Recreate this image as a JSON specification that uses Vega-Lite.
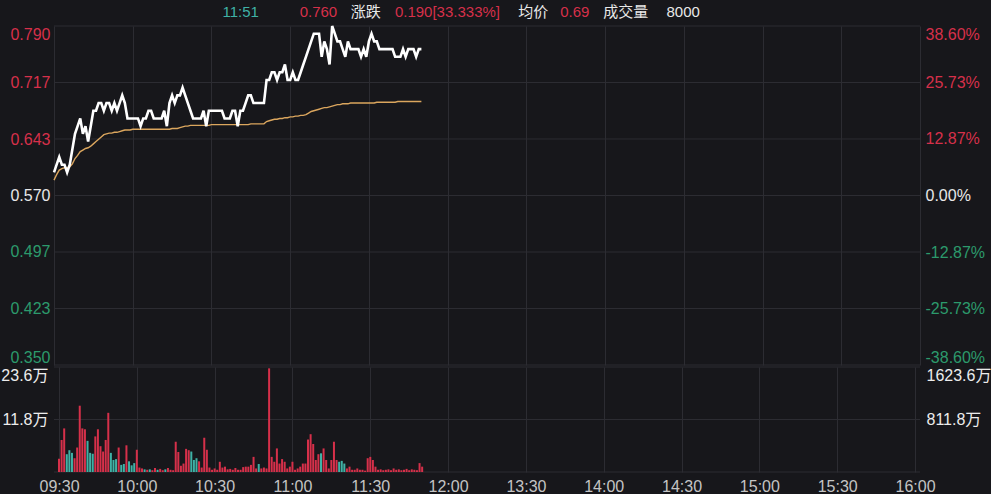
{
  "$schema": "https://vega.github.io/schema/vega-lite/v6.json",
  "background": "#17171b",
  "padding": 0,
  "spacing": 2,
  "bounds": "flush",
  "config": {
    "view": {"stroke": null},
    "font": "Liberation Sans, Noto Sans CJK SC",
    "axis": {"domain": false, "ticks": false, "labelFontSize": 16, "labelFont": "Liberation Sans, Noto Sans CJK SC", "gridColor": "#2c2c32", "gridWidth": 1, "title": null}
  },
  "datasets": {
    "header": [
      {"pos": 64.2, "label": "11:51", "tone": "time"},
      {"pos": 93.6, "label": "0.760", "tone": "up"},
      {"pos": 113.1, "label": "涨跌", "tone": "plain"},
      {"pos": 129.9, "label": "0.190[33.333%]", "tone": "up"},
      {"pos": 176.9, "label": "均价", "tone": "plain"},
      {"pos": 192.9, "label": "0.69", "tone": "up"},
      {"pos": 209.3, "label": "成交量", "tone": "plain"},
      {"pos": 233.4, "label": "8000", "tone": "plain"}
    ],
    "pct": [{"pct": -38.5965}, {"pct": -25.731}, {"pct": -12.866}, {"pct": 0}, {"pct": 12.866}, {"pct": 25.731}, {"pct": 38.5965}],
    "turnover": [{"amt": 0}, {"amt": 811.8}, {"amt": 1623.6}],
    "minute": [
      {"t":0,"price":0.60,"avg":0.590,"vol":3.0,"dir":"up"},
      {"t":1,"price":0.61,"avg":0.597,"vol":7.2,"dir":"up"},
      {"t":2,"price":0.62,"avg":0.603,"vol":9.8,"dir":"flat"},
      {"t":3,"price":0.61,"avg":0.605,"vol":4.0,"dir":"down"},
      {"t":4,"price":0.61,"avg":0.606,"vol":4.9,"dir":"down"},
      {"t":5,"price":0.60,"avg":0.606,"vol":4.3,"dir":"down"},
      {"t":6,"price":0.61,"avg":0.607,"vol":3.1,"dir":"up"},
      {"t":7,"price":0.63,"avg":0.611,"vol":5.5,"dir":"up"},
      {"t":8,"price":0.65,"avg":0.618,"vol":14.9,"dir":"up"},
      {"t":9,"price":0.66,"avg":0.622,"vol":9.8,"dir":"up"},
      {"t":10,"price":0.67,"avg":0.627,"vol":9.6,"dir":"up"},
      {"t":11,"price":0.65,"avg":0.629,"vol":7.0,"dir":"down"},
      {"t":12,"price":0.66,"avg":0.631,"vol":4.3,"dir":"down"},
      {"t":13,"price":0.64,"avg":0.632,"vol":4.1,"dir":"down"},
      {"t":14,"price":0.66,"avg":0.634,"vol":8.0,"dir":"up"},
      {"t":15,"price":0.68,"avg":0.637,"vol":9.6,"dir":"flat"},
      {"t":16,"price":0.68,"avg":0.640,"vol":5.8,"dir":"up"},
      {"t":17,"price":0.69,"avg":0.643,"vol":4.6,"dir":"flat"},
      {"t":18,"price":0.69,"avg":0.646,"vol":7.2,"dir":"up"},
      {"t":19,"price":0.68,"avg":0.649,"vol":13.3,"dir":"flat"},
      {"t":20,"price":0.69,"avg":0.650,"vol":4.3,"dir":"down"},
      {"t":21,"price":0.69,"avg":0.651,"vol":2.7,"dir":"down"},
      {"t":22,"price":0.68,"avg":0.651,"vol":2.9,"dir":"down"},
      {"t":23,"price":0.69,"avg":0.652,"vol":5.5,"dir":"flat"},
      {"t":24,"price":0.68,"avg":0.652,"vol":1.6,"dir":"down"},
      {"t":25,"price":0.69,"avg":0.653,"vol":1.8,"dir":"down"},
      {"t":26,"price":0.70,"avg":0.654,"vol":6.0,"dir":"up"},
      {"t":27,"price":0.69,"avg":0.655,"vol":2.4,"dir":"down"},
      {"t":28,"price":0.67,"avg":0.655,"vol":1.5,"dir":"down"},
      {"t":29,"price":0.67,"avg":0.655,"vol":2.0,"dir":"down"},
      {"t":30,"price":0.67,"avg":0.656,"vol":5.0,"dir":"flat"},
      {"t":31,"price":0.67,"avg":0.656,"vol":1.0,"dir":"flat"},
      {"t":32,"price":0.67,"avg":0.656,"vol":0.8,"dir":"flat"},
      {"t":33,"price":0.66,"avg":0.656,"vol":0.6,"dir":"down"},
      {"t":34,"price":0.67,"avg":0.656,"vol":0.5,"dir":"flat"},
      {"t":35,"price":0.67,"avg":0.656,"vol":0.6,"dir":"down"},
      {"t":36,"price":0.68,"avg":0.656,"vol":0.4,"dir":"flat"},
      {"t":37,"price":0.68,"avg":0.656,"vol":0.9,"dir":"flat"},
      {"t":38,"price":0.67,"avg":0.656,"vol":0.5,"dir":"down"},
      {"t":39,"price":0.67,"avg":0.656,"vol":0.7,"dir":"flat"},
      {"t":40,"price":0.67,"avg":0.656,"vol":0.4,"dir":"flat"},
      {"t":41,"price":0.67,"avg":0.656,"vol":0.6,"dir":"down"},
      {"t":42,"price":0.68,"avg":0.656,"vol":0.9,"dir":"flat"},
      {"t":43,"price":0.66,"avg":0.656,"vol":0.5,"dir":"up"},
      {"t":44,"price":0.69,"avg":0.656,"vol":0.4,"dir":"flat"},
      {"t":45,"price":0.70,"avg":0.657,"vol":6.8,"dir":"up"},
      {"t":46,"price":0.69,"avg":0.657,"vol":4.5,"dir":"flat"},
      {"t":47,"price":0.70,"avg":0.657,"vol":1.4,"dir":"up"},
      {"t":48,"price":0.70,"avg":0.658,"vol":1.9,"dir":"up"},
      {"t":49,"price":0.71,"avg":0.659,"vol":5.2,"dir":"up"},
      {"t":50,"price":0.70,"avg":0.660,"vol":4.9,"dir":"up"},
      {"t":51,"price":0.69,"avg":0.660,"vol":4.6,"dir":"down"},
      {"t":52,"price":0.68,"avg":0.661,"vol":2.7,"dir":"down"},
      {"t":53,"price":0.67,"avg":0.661,"vol":3.1,"dir":"down"},
      {"t":54,"price":0.67,"avg":0.661,"vol":2.4,"dir":"flat"},
      {"t":55,"price":0.67,"avg":0.661,"vol":1.0,"dir":"flat"},
      {"t":56,"price":0.67,"avg":0.661,"vol":7.7,"dir":"flat"},
      {"t":57,"price":0.68,"avg":0.661,"vol":5.0,"dir":"flat"},
      {"t":58,"price":0.66,"avg":0.661,"vol":1.0,"dir":"up"},
      {"t":59,"price":0.68,"avg":0.661,"vol":0.5,"dir":"up"},
      {"t":60,"price":0.68,"avg":0.662,"vol":0.8,"dir":"flat"},
      {"t":61,"price":0.68,"avg":0.662,"vol":0.5,"dir":"flat"},
      {"t":62,"price":0.68,"avg":0.662,"vol":2.3,"dir":"flat"},
      {"t":63,"price":0.68,"avg":0.662,"vol":1.0,"dir":"flat"},
      {"t":64,"price":0.68,"avg":0.662,"vol":1.2,"dir":"flat"},
      {"t":65,"price":0.67,"avg":0.662,"vol":0.6,"dir":"flat"},
      {"t":66,"price":0.67,"avg":0.662,"vol":0.7,"dir":"flat"},
      {"t":67,"price":0.67,"avg":0.662,"vol":0.5,"dir":"flat"},
      {"t":68,"price":0.68,"avg":0.662,"vol":0.9,"dir":"flat"},
      {"t":69,"price":0.68,"avg":0.662,"vol":0.5,"dir":"flat"},
      {"t":70,"price":0.66,"avg":0.662,"vol":0.5,"dir":"up"},
      {"t":71,"price":0.68,"avg":0.662,"vol":1.1,"dir":"up"},
      {"t":72,"price":0.68,"avg":0.662,"vol":1.2,"dir":"up"},
      {"t":73,"price":0.69,"avg":0.662,"vol":1.2,"dir":"up"},
      {"t":74,"price":0.70,"avg":0.662,"vol":1.6,"dir":"up"},
      {"t":75,"price":0.70,"avg":0.663,"vol":3.4,"dir":"up"},
      {"t":76,"price":0.69,"avg":0.663,"vol":0.8,"dir":"flat"},
      {"t":77,"price":0.69,"avg":0.663,"vol":1.8,"dir":"down"},
      {"t":78,"price":0.69,"avg":0.663,"vol":0.8,"dir":"flat"},
      {"t":79,"price":0.69,"avg":0.663,"vol":1.0,"dir":"flat"},
      {"t":80,"price":0.69,"avg":0.663,"vol":0.8,"dir":"flat"},
      {"t":81,"price":0.72,"avg":0.666,"vol":23.3,"dir":"up"},
      {"t":82,"price":0.72,"avg":0.667,"vol":3.4,"dir":"up"},
      {"t":83,"price":0.73,"avg":0.668,"vol":2.3,"dir":"up"},
      {"t":84,"price":0.73,"avg":0.669,"vol":5.3,"dir":"flat"},
      {"t":85,"price":0.72,"avg":0.669,"vol":1.9,"dir":"up"},
      {"t":86,"price":0.73,"avg":0.670,"vol":2.9,"dir":"up"},
      {"t":87,"price":0.73,"avg":0.670,"vol":2.3,"dir":"up"},
      {"t":88,"price":0.74,"avg":0.671,"vol":0.8,"dir":"flat"},
      {"t":89,"price":0.72,"avg":0.671,"vol":1.2,"dir":"flat"},
      {"t":90,"price":0.72,"avg":0.672,"vol":2.3,"dir":"flat"},
      {"t":91,"price":0.73,"avg":0.672,"vol":0.5,"dir":"flat"},
      {"t":92,"price":0.72,"avg":0.673,"vol":0.8,"dir":"flat"},
      {"t":93,"price":0.72,"avg":0.673,"vol":1.2,"dir":"flat"},
      {"t":94,"price":0.73,"avg":0.674,"vol":1.9,"dir":"up"},
      {"t":95,"price":0.74,"avg":0.674,"vol":1.9,"dir":"up"},
      {"t":96,"price":0.75,"avg":0.675,"vol":7.3,"dir":"up"},
      {"t":97,"price":0.76,"avg":0.677,"vol":8.5,"dir":"up"},
      {"t":98,"price":0.77,"avg":0.679,"vol":6.3,"dir":"up"},
      {"t":99,"price":0.78,"avg":0.680,"vol":2.7,"dir":"flat"},
      {"t":100,"price":0.78,"avg":0.681,"vol":4.0,"dir":"up"},
      {"t":101,"price":0.78,"avg":0.682,"vol":4.2,"dir":"down"},
      {"t":102,"price":0.75,"avg":0.683,"vol":5.3,"dir":"up"},
      {"t":103,"price":0.77,"avg":0.684,"vol":2.7,"dir":"up"},
      {"t":104,"price":0.76,"avg":0.684,"vol":0.8,"dir":"flat"},
      {"t":105,"price":0.74,"avg":0.685,"vol":2.7,"dir":"up"},
      {"t":106,"price":0.79,"avg":0.686,"vol":6.8,"dir":"up"},
      {"t":107,"price":0.78,"avg":0.687,"vol":2.7,"dir":"up"},
      {"t":108,"price":0.77,"avg":0.688,"vol":2.3,"dir":"down"},
      {"t":109,"price":0.77,"avg":0.688,"vol":2.5,"dir":"down"},
      {"t":110,"price":0.76,"avg":0.689,"vol":1.9,"dir":"down"},
      {"t":111,"price":0.75,"avg":0.689,"vol":0.8,"dir":"flat"},
      {"t":112,"price":0.77,"avg":0.689,"vol":1.2,"dir":"up"},
      {"t":113,"price":0.76,"avg":0.690,"vol":0.5,"dir":"flat"},
      {"t":114,"price":0.76,"avg":0.690,"vol":0.5,"dir":"flat"},
      {"t":115,"price":0.76,"avg":0.690,"vol":0.8,"dir":"flat"},
      {"t":116,"price":0.76,"avg":0.690,"vol":0.5,"dir":"flat"},
      {"t":117,"price":0.75,"avg":0.690,"vol":0.5,"dir":"flat"},
      {"t":118,"price":0.76,"avg":0.690,"vol":0.3,"dir":"flat"},
      {"t":119,"price":0.75,"avg":0.690,"vol":3.1,"dir":"flat"},
      {"t":120,"price":0.77,"avg":0.690,"vol":3.4,"dir":"up"},
      {"t":121,"price":0.78,"avg":0.690,"vol":2.7,"dir":"up"},
      {"t":122,"price":0.77,"avg":0.690,"vol":1.2,"dir":"flat"},
      {"t":123,"price":0.77,"avg":0.691,"vol":0.5,"dir":"flat"},
      {"t":124,"price":0.76,"avg":0.691,"vol":0.6,"dir":"flat"},
      {"t":125,"price":0.76,"avg":0.691,"vol":0.4,"dir":"flat"},
      {"t":126,"price":0.76,"avg":0.691,"vol":0.5,"dir":"flat"},
      {"t":127,"price":0.76,"avg":0.691,"vol":0.6,"dir":"flat"},
      {"t":128,"price":0.76,"avg":0.691,"vol":0.4,"dir":"flat"},
      {"t":129,"price":0.76,"avg":0.691,"vol":0.8,"dir":"flat"},
      {"t":130,"price":0.75,"avg":0.691,"vol":0.5,"dir":"flat"},
      {"t":131,"price":0.75,"avg":0.692,"vol":0.6,"dir":"flat"},
      {"t":132,"price":0.75,"avg":0.692,"vol":0.4,"dir":"flat"},
      {"t":133,"price":0.76,"avg":0.692,"vol":0.5,"dir":"flat"},
      {"t":134,"price":0.75,"avg":0.692,"vol":0.7,"dir":"flat"},
      {"t":135,"price":0.76,"avg":0.692,"vol":0.4,"dir":"flat"},
      {"t":136,"price":0.76,"avg":0.692,"vol":0.6,"dir":"flat"},
      {"t":137,"price":0.76,"avg":0.692,"vol":0.5,"dir":"flat"},
      {"t":138,"price":0.75,"avg":0.692,"vol":0.4,"dir":"flat"},
      {"t":139,"price":0.76,"avg":0.692,"vol":2.0,"dir":"up"},
      {"t":140,"price":0.76,"avg":0.692,"vol":1.2,"dir":"up"}
    ]
  },
  "vconcat": [
    {
      "width": 866,
      "height": 24,
      "data": {"name": "header"},
      "mark": {"type": "text", "align": "left", "baseline": "middle", "fontSize": 15},
      "encoding": {
        "x": {"field": "pos", "type": "quantitative", "scale": {"domain": [0, 330], "nice": false}, "axis": null},
        "text": {"field": "label"},
        "color": {"field": "tone", "type": "nominal", "scale": {"domain": ["time", "up", "plain"], "range": ["#3fb2a6", "#d6304a", "#e8e8e8"]}, "legend": null}
      }
    },
    {
      "width": 866,
      "height": 339,
      "layer": [
        {
          "data": {"name": "pct"},
          "mark": {"type": "rule", "color": "#2c2c32", "strokeWidth": 1},
          "encoding": {
            "y": {
              "field": "pct", "type": "quantitative",
              "scale": {"domain": [-38.5965, 38.5965], "nice": false, "zero": false},
              "axis": {
                "orient": "right", "grid": false, "labelFlush": true, "labelPadding": 5,
                "values": [-38.5965, -25.731, -12.866, 0, 12.866, 25.731, 38.5965],
                "labelExpr": "(datum.value < 0 ? '-' : '') + format(abs(datum.value), '.2f') + '%'",
                "labelColor": {"condition": [{"test": "datum.value > 0.01", "value": "#d6304a"}, {"test": "datum.value < -0.01", "value": "#2c9a6c"}], "value": "#e8e8e8"}
              }
            }
          }
        },
        {
          "data": {"name": "minute"},
          "encoding": {
            "x": {
              "field": "t", "type": "quantitative",
              "scale": {"domain": [0, 330], "nice": false, "zero": false},
              "axis": {"values": [0, 30, 60, 90, 120, 150, 180, 210, 240, 270, 300, 330], "grid": true, "labels": false}
            }
          },
          "layer": [
            {
              "mark": {"type": "line", "color": "#dba65e", "strokeWidth": 1.4},
              "encoding": {
                "y": {
                  "field": "avg", "type": "quantitative",
                  "scale": {"domain": [0.35, 0.79], "nice": false, "zero": false},
                  "axis": {
                    "orient": "left", "grid": false, "labelFlush": true, "labelPadding": 4,
                    "values": [0.35, 0.42333, 0.49667, 0.57, 0.64333, 0.71667, 0.79],
                    "format": ".3f",
                    "labelColor": {"condition": [{"test": "datum.value > 0.5701", "value": "#d6304a"}, {"test": "datum.value < 0.5699", "value": "#2c9a6c"}], "value": "#e8e8e8"}
                  }
                }
              }
            },
            {
              "mark": {"type": "line", "color": "#ffffff", "strokeWidth": 2.6},
              "encoding": {
                "y": {"field": "price", "type": "quantitative"}
              }
            }
          ]
        }
      ],
      "resolve": {"scale": {"y": "independent"}, "axis": {"y": "independent"}}
    },
    {
      "width": 866,
      "height": 105,
      "layer": [
        {
          "data": {"name": "turnover"},
          "mark": {"type": "rule", "color": "#2c2c32", "strokeWidth": 1},
          "encoding": {
            "y": {
              "field": "amt", "type": "quantitative",
              "scale": {"domain": [0, 1623.6], "nice": false},
              "axis": {
                "orient": "right", "grid": false, "labelFlush": true, "labelPadding": 6, "labelColor": "#ececec",
                "values": [0, 811.8, 1623.6],
                "labelExpr": "datum.value == 0 ? '' : format(datum.value, '.1f') + '万'"
              }
            }
          }
        },
        {
          "data": {"name": "minute"},
          "mark": {"type": "bar", "size": 2},
          "encoding": {
            "x": {
              "field": "t", "type": "quantitative",
              "scale": {"domain": [0, 330], "nice": false, "zero": false},
              "axis": {
                "values": [0, 30, 60, 90, 120, 150, 180, 210, 240, 270, 300, 330], "grid": true,
                "labelColor": "#c4c4c4", "labelPadding": 6, "labelFlush": false,
                "labelExpr": "['09:30','10:00','10:30','11:00','11:30','12:00','13:30','14:00','14:30','15:00','15:30','16:00'][round(datum.value / 30)]"
              }
            },
            "y": {
              "field": "vol", "type": "quantitative",
              "scale": {"domain": [0, 23.6], "nice": false},
              "axis": {
                "orient": "left", "grid": false, "labelFlush": true, "labelPadding": 6, "labelColor": "#ececec",
                "values": [0, 11.8, 23.6],
                "labelExpr": "datum.value == 0 ? '' : format(datum.value, '.1f') + '万'"
              }
            },
            "color": {"field": "dir", "type": "nominal", "scale": {"domain": ["up", "down", "flat"], "range": ["#cc1f3c", "#2f8f6a", "#e2dcde"]}, "legend": null}
          }
        }
      ],
      "resolve": {"scale": {"y": "independent"}, "axis": {"y": "independent"}}
    }
  ]
}
